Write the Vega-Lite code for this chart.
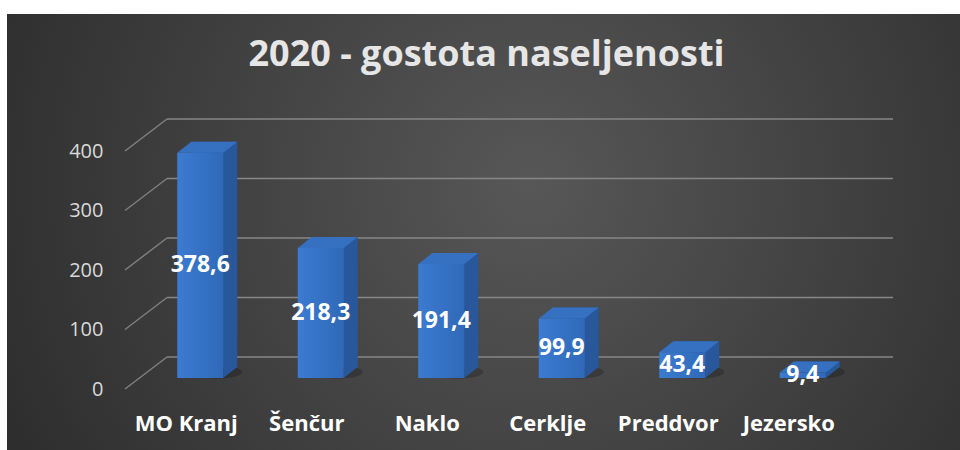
{
  "$schema": "https://vega.github.io/schema/vega-lite/v6.json",
  "width": 723,
  "height": 238,
  "autosize": {"type": "none"},
  "padding": {"left": 140, "top": 140, "right": 97, "bottom": 72},
  "background": "#ffffff",
  "config": {
    "view": {"stroke": null},
    "font": "Open Sans",
    "locale": {"number": {"decimal": ",", "thousands": ".", "grouping": [3], "currency": ["", " €"]}}
  },
  "title": {
    "text": "2020 - gostota naseljenosti",
    "font": "Open Sans",
    "fontSize": 36,
    "fontWeight": "bold",
    "color": "#e6e6e6",
    "anchor": "middle",
    "frame": "group",
    "baseline": "alphabetic",
    "dx": -15,
    "offset": -88
  },
  "data": {
    "values": [
      {"kraj": "MO Kranj", "value": 378.6},
      {"kraj": "Šenčur", "value": 218.3},
      {"kraj": "Naklo", "value": 191.4},
      {"kraj": "Cerklje", "value": 99.9},
      {"kraj": "Preddvor", "value": 43.4},
      {"kraj": "Jezersko", "value": 9.4}
    ]
  },
  "resolve": {"scale": {"x": "independent"}},
  "layer": [
    {
      "data": {"values": [{"part": "background"}]},
      "mark": {
        "type": "rect",
        "xOffset": -133, "x2Offset": 97, "yOffset": -126, "y2Offset": 72,
        "color": {"gradient": "radial", "x1": 0.55, "y1": 0.45, "r1": 0, "x2": 0.55, "y2": 0.45, "r2": 0.75,
          "stops": [{"offset": 0, "color": "#575757"}, {"offset": 1, "color": "#242424"}]}
      },
      "encoding": {
        "x": {"datum": 0, "type": "quantitative", "scale": {"domain": [0, 1]}, "axis": null},
        "x2": {"datum": 1},
        "y": {"datum": 400, "type": "quantitative", "scale": {"domain": [0, 400], "nice": false},
          "axis": {"title": null, "values": [0, 100, 200, 300, 400], "labelFont": "Open Sans", "labelFontSize": 20, "labelColor": "#d9d9d9",
            "labelPadding": 37, "labelOffset": 11, "domain": false, "ticks": false, "tickSize": 0, "grid": false, "zindex": 2}},
        "y2": {"datum": 0}
      }
    },
    {
      "data": {"values": [{"v": 0}, {"v": 100}, {"v": 200}, {"v": 300}, {"v": 400}]},
      "mark": {"type": "rule", "color": "#878787", "strokeWidth": 1.5, "xOffset": 27, "x2Offset": 30, "yOffset": -21, "y2Offset": -21},
      "encoding": {
        "x": {"datum": 0, "type": "quantitative", "scale": {"domain": [0, 1]}, "axis": null},
        "x2": {"datum": 1},
        "y": {"field": "v", "type": "quantitative", "scale": {"domain": [0, 400], "nice": false}}
      }
    },
    {
      "data": {"values": [{"v": 0}, {"v": 100}, {"v": 200}, {"v": 300}, {"v": 400}]},
      "mark": {"type": "rule", "color": "#7f7f7f", "strokeWidth": 1.5, "xOffset": -15, "x2Offset": 27, "yOffset": 11, "y2Offset": -21},
      "encoding": {
        "x": {"datum": 0, "type": "quantitative", "scale": {"domain": [0, 1]}, "axis": null},
        "x2": {"datum": 0},
        "y": {"field": "v", "type": "quantitative", "scale": {"domain": [0, 400], "nice": false}},
        "y2": {"field": "v"}
      }
    },
    {
      "mark": {"type": "point", "filled": true, "opacity": 0.2, "color": "#000000", "size": 3600, "strokeWidth": 0,
        "shape": "M-0.3,-0.2A0.85,0.22 0 1,0 1.4,-0.2A0.85,0.22 0 1,0 -0.3,-0.2Z"},
      "encoding": {
        "x": {"field": "kraj", "type": "nominal", "sort": null, "scale": {"type": "band", "paddingInner": 0, "paddingOuter": 0}, "axis": null},
        "y": {"datum": 0, "type": "quantitative", "scale": {"domain": [0, 400], "nice": false}}
      }
    },
    {
      "mark": {"type": "bar", "width": 46, "color": "#28579c", "xOffset": 14, "yOffset": -11, "y2Offset": -11},
      "encoding": {
        "x": {"field": "kraj", "type": "nominal", "sort": null, "scale": {"type": "band", "paddingInner": 0, "paddingOuter": 0},
          "axis": {"title": null, "labelFont": "Open Sans", "labelFontSize": 22, "labelFontWeight": "bold", "labelColor": "#ffffff",
            "labelPadding": 35, "labelOffset": -14, "labelAngle": 0, "domain": false, "ticks": false, "tickSize": 0, "grid": false, "zindex": 2}},
        "y": {"field": "value", "type": "quantitative", "scale": {"domain": [0, 400], "nice": false}}
      }
    },
    {
      "mark": {"type": "point", "filled": true, "opacity": 1, "color": "#28579c", "size": 3600, "strokeWidth": 0,
        "shape": "M0.7667,-0.3667L0.7667,0L1.2333,-0.3667Z"},
      "encoding": {
        "x": {"field": "kraj", "type": "nominal", "sort": null, "scale": {"type": "band", "paddingInner": 0, "paddingOuter": 0}, "axis": null},
        "y": {"datum": 0, "type": "quantitative", "scale": {"domain": [0, 400], "nice": false}}
      }
    },
    {
      "mark": {"type": "point", "filled": true, "opacity": 1, "color": "#3670c0", "size": 3600, "strokeWidth": 0,
        "shape": "M-0.7667,0L0.7667,0L1.2333,-0.3667L-0.3,-0.3667Z"},
      "encoding": {
        "x": {"field": "kraj", "type": "nominal", "sort": null, "scale": {"type": "band", "paddingInner": 0, "paddingOuter": 0}, "axis": null},
        "y": {"field": "value", "type": "quantitative", "scale": {"domain": [0, 400], "nice": false}}
      }
    },
    {
      "mark": {"type": "bar", "width": 46,
        "color": {"gradient": "linear", "x1": 0, "y1": 0, "x2": 1, "y2": 0,
          "stops": [{"offset": 0, "color": "#3b7bd1"}, {"offset": 1, "color": "#3069b8"}]}},
      "encoding": {
        "x": {"field": "kraj", "type": "nominal", "sort": null, "scale": {"type": "band", "paddingInner": 0, "paddingOuter": 0}, "axis": null},
        "y": {"field": "value", "type": "quantitative", "scale": {"domain": [0, 400], "nice": false}}
      }
    },
    {
      "transform": [{"calculate": "datum.value / 2", "as": "mid"}],
      "mark": {"type": "text", "font": "Open Sans", "fontSize": 23, "fontWeight": "bold", "color": "#ffffff", "baseline": "middle", "align": "center"},
      "encoding": {
        "x": {"field": "kraj", "type": "nominal", "sort": null, "scale": {"type": "band", "paddingInner": 0, "paddingOuter": 0}, "axis": null},
        "y": {"field": "mid", "type": "quantitative", "scale": {"domain": [0, 400], "nice": false}},
        "text": {"field": "value", "type": "quantitative", "format": ".1f"}
      }
    }
  ]
}
